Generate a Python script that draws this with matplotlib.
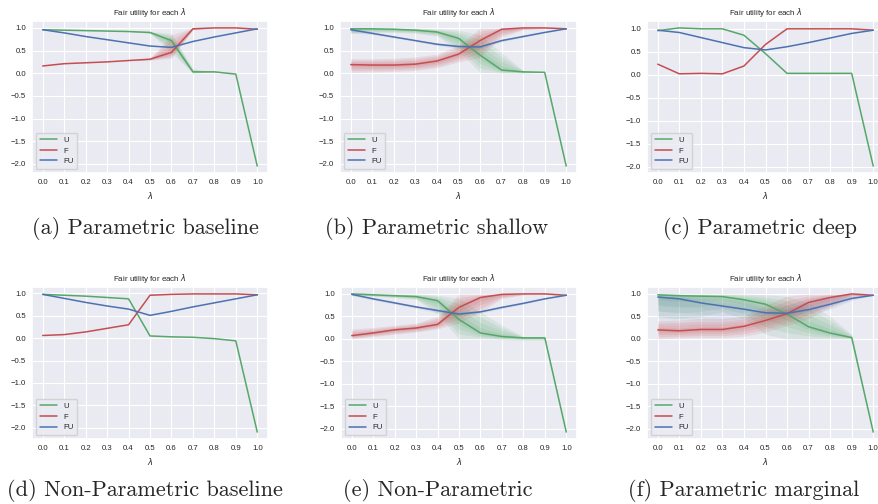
import matplotlib.pyplot as plt
import seaborn as sns

lam = [0.0, 0.1, 0.2, 0.3, 0.4, 0.5, 0.6, 0.7, 0.8, 0.9, 1.0]

# (a) Parametric baseline
a_u = [0.96, 0.95, 0.94, 0.93, 0.92, 0.90, 0.72, 0.03, 0.03, -0.02, -2.05]
a_u_lo = [0.96, 0.95, 0.94, 0.93, 0.92, 0.88, 0.45, 0.00, 0.03, -0.02, -2.05]
a_u_hi = [0.96, 0.95, 0.94, 0.93, 0.92, 0.92, 0.88, 0.10, 0.03, -0.02, -2.05]
a_f = [0.16, 0.21, 0.23, 0.25, 0.28, 0.31, 0.46, 0.98, 1.00, 1.00, 0.97]
a_f_lo = [0.16, 0.21, 0.23, 0.25, 0.28, 0.29, 0.33, 0.96, 1.00, 1.00, 0.97]
a_f_hi = [0.16, 0.21, 0.23, 0.25, 0.28, 0.33, 0.85, 1.00, 1.00, 1.00, 0.97]
a_fu = [0.96, 0.89, 0.81, 0.74, 0.67, 0.60, 0.57, 0.70, 0.80, 0.89, 0.98]

# (b) Parametric shallow
b_u = [0.98, 0.98, 0.97, 0.95, 0.91, 0.77, 0.40, 0.07, 0.03, 0.02, -2.05]
b_u_lo = [0.88, 0.90, 0.90, 0.88, 0.82, 0.50, 0.02, 0.00, 0.00, 0.02, -2.05]
b_u_hi = [1.00, 1.00, 1.00, 1.00, 0.98, 0.95, 0.85, 0.45, 0.06, 0.02, -2.05]
b_f = [0.19, 0.18, 0.18, 0.20, 0.27, 0.42, 0.72, 0.97, 1.00, 1.00, 0.98]
b_f_lo = [0.02, 0.03, 0.04, 0.06, 0.12, 0.25, 0.35, 0.80, 0.96, 0.99, 0.98]
b_f_hi = [0.32, 0.32, 0.33, 0.36, 0.42, 0.62, 1.00, 1.00, 1.00, 1.00, 0.98]
b_fu = [0.96, 0.88, 0.80, 0.72, 0.64, 0.59, 0.58, 0.72, 0.81, 0.90, 0.98]
b_fu_lo = [0.88, 0.85, 0.78, 0.70, 0.61, 0.54, 0.53, 0.69, 0.79, 0.89, 0.98]
b_fu_hi = [1.00, 0.92, 0.82, 0.74, 0.67, 0.64, 0.63, 0.75, 0.83, 0.91, 0.98]

# (c) Parametric deep
c_u = [0.96, 1.02, 1.00, 1.00, 0.86, 0.46, 0.03, 0.03, 0.03, 0.03, -1.99]
c_f = [0.23, 0.02, 0.03, 0.02, 0.19, 0.66, 1.00, 1.00, 1.00, 1.00, 0.97]
c_fu = [0.97, 0.92, 0.81, 0.70, 0.59, 0.54, 0.61, 0.70, 0.80, 0.90, 0.97]

# (d) Non-Parametric baseline
d_u = [0.98, 0.96, 0.94, 0.91, 0.88, 0.05, 0.03, 0.02, -0.01, -0.06, -2.10]
d_f = [0.06, 0.08, 0.14, 0.22, 0.30, 0.96, 0.98, 0.99, 0.99, 0.99, 0.97]
d_fu = [0.98, 0.89, 0.80, 0.72, 0.65, 0.51, 0.60, 0.70, 0.79, 0.88, 0.97]

# (e) Non-Parametric
e_u = [1.00, 0.98, 0.96, 0.94, 0.85, 0.43, 0.13, 0.05, 0.02, 0.02, -2.08]
e_u_lo = [0.97, 0.95, 0.92, 0.88, 0.55, 0.00, 0.00, -0.02, -0.03, -0.03, -2.08]
e_u_hi = [1.00, 1.00, 1.00, 1.00, 0.97, 0.90, 0.60, 0.30, 0.05, 0.05, -2.08]
e_f = [0.07, 0.13, 0.20, 0.24, 0.32, 0.70, 0.92, 0.99, 1.00, 1.00, 0.97]
e_f_lo = [0.00, 0.05, 0.10, 0.15, 0.22, 0.35, 0.60, 0.90, 0.98, 0.99, 0.97]
e_f_hi = [0.22, 0.25, 0.30, 0.35, 0.50, 1.00, 1.00, 1.00, 1.00, 1.00, 0.97]
e_fu = [0.99, 0.89, 0.80, 0.71, 0.63, 0.55, 0.60, 0.70, 0.79, 0.89, 0.97]
e_fu_lo = [0.96, 0.86, 0.77, 0.68, 0.57, 0.50, 0.57, 0.67, 0.77, 0.88, 0.97]
e_fu_hi = [1.00, 0.92, 0.83, 0.74, 0.68, 0.62, 0.63, 0.73, 0.81, 0.90, 0.97]

# (f) Parametric marginal
f_u = [0.98, 0.96, 0.95, 0.94, 0.87, 0.77, 0.55, 0.27, 0.13, 0.03, -2.07]
f_u_lo = [0.50, 0.45, 0.50, 0.60, 0.45, 0.10, 0.00, 0.00, 0.00, 0.00, -2.07]
f_u_hi = [1.00, 1.00, 1.00, 1.00, 1.00, 0.98, 0.95, 0.80, 0.50, 0.10, -2.07]
f_f = [0.20, 0.18, 0.21, 0.21, 0.28, 0.41, 0.56, 0.81, 0.92, 1.00, 0.97]
f_f_lo = [0.00, 0.02, 0.03, 0.03, 0.06, 0.15, 0.30, 0.45, 0.70, 0.95, 0.97]
f_f_hi = [0.40, 0.42, 0.45, 0.45, 0.50, 0.75, 0.95, 1.00, 1.00, 1.00, 0.97]
f_fu = [0.93, 0.89, 0.80, 0.73, 0.66, 0.58, 0.57, 0.65, 0.77, 0.90, 0.97]
f_fu_lo = [0.30, 0.30, 0.30, 0.30, 0.40, 0.50, 0.50, 0.55, 0.65, 0.85, 0.97]
f_fu_hi = [1.00, 1.00, 0.95, 0.90, 0.85, 0.70, 0.75, 0.90, 1.00, 1.00, 0.97]

captions = ["(a) Parametric baseline", "(b) Parametric shallow", "(c) Parametric deep",
            "(d) Non-Parametric baseline", "(e) Non-Parametric", "(f) Parametric marginal"]

panels = [
    [(a_u, a_u_lo, a_u_hi), (a_f, a_f_lo, a_f_hi), (a_fu, None, None)],
    [(b_u, b_u_lo, b_u_hi), (b_f, b_f_lo, b_f_hi), (b_fu, b_fu_lo, b_fu_hi)],
    [(c_u, None, None), (c_f, None, None), (c_fu, None, None)],
    [(d_u, None, None), (d_f, None, None), (d_fu, None, None)],
    [(e_u, e_u_lo, e_u_hi), (e_f, e_f_lo, e_f_hi), (e_fu, e_fu_lo, e_fu_hi)],
    [(f_u, f_u_lo, f_u_hi), (f_f, f_f_lo, f_f_hi), (f_fu, f_fu_lo, f_fu_hi)],
]
names = ["U", "F", "FU"]
colors = ["#55A868", "#C44E52", "#4C72B0"]
band_alpha = [0.12, 0.12, 0.05]

sns.set_theme(style="darkgrid")
plt.rcParams["font.family"] = ["Liberation Sans", "DejaVu Sans"]

W, H = 879, 504
fig = plt.figure(figsize=(W / 100, H / 100), dpi=100)

# axes boxes in pixels: left, top, width, height
boxes = [(32, 21, 236, 152), (340, 21, 237, 152), (647, 21, 237, 152),
         (32, 287, 236, 152), (341, 287, 236, 152), (647, 287, 237, 152)]
cap_pos = [(145, 228), (437, 228), (760, 228), (145, 491), (438, 491), (744, 491)]

for i, series in enumerate(panels):
    l, t, w, h = boxes[i]
    ax = fig.add_axes([l / W, 1 - (t + h) / H, w / W, h / H])
    for (mean, lo, hi), name, c, al in zip(series, names, colors, band_alpha):
        if lo is not None:
            # fan of shaded bands, denser near the mean
            for k in range(1, 5):
                fr = k / 4
                ax.fill_between(lam,
                                [m + fr * (x - m) for m, x in zip(mean, lo)],
                                [m + fr * (x - m) for m, x in zip(mean, hi)],
                                color=c, alpha=al, lw=0)
        ax.plot(lam, mean, color=c, lw=1.1, label=name)
    ax.set_xticks(lam)
    ax.set_yticks([1.0, 0.5, 0.0, -0.5, -1.0, -1.5, -2.0])
    ax.tick_params(axis="x", labelsize=5.6, length=0, pad=4.5)
    ax.tick_params(axis="y", labelsize=5.6, length=0, pad=4.3)
    ax.grid(lw=0.8)
    ax.set_title(r"Fair utility for each $\lambda$", fontsize=5.8, pad=4)
    ax.set_xlabel(r"$\lambda$", fontsize=6, labelpad=2.5)
    ax.legend(loc="lower left", fontsize=5.6, handlelength=2.2, borderpad=0.5,
              labelspacing=0.4)
    cx, cy = cap_pos[i]
    fig.text(cx / W, 1 - cy / H, captions[i], ha="center", va="center",
             fontsize=16, family="cmr10")

fig.savefig("out.png", dpi=100)
